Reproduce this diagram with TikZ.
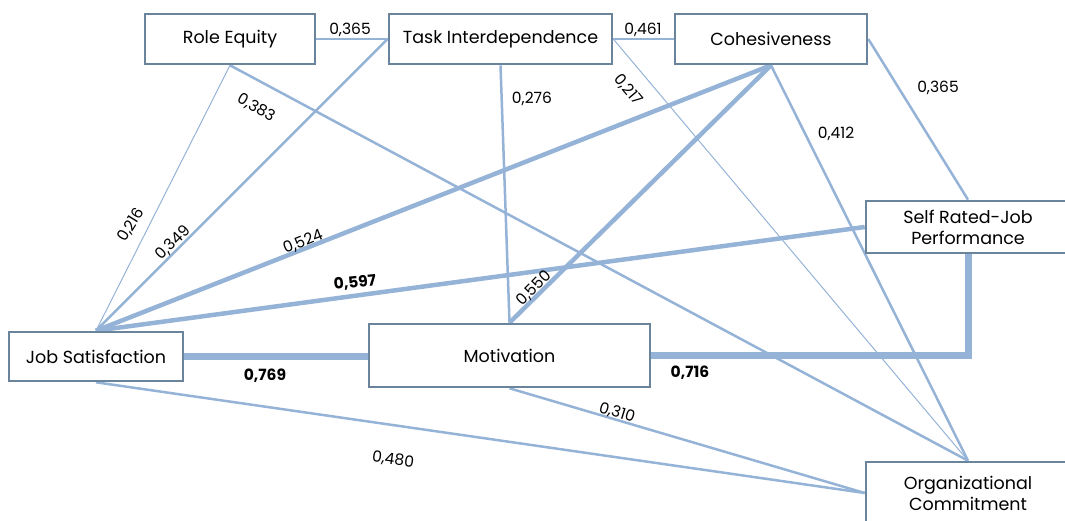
\documentclass[tikz,border=0pt]{standalone}
\usepackage{fontspec}
\setmainfont{Poppins}
\usetikzlibrary{backgrounds}
\definecolor{boxedge}{HTML}{6A849C}
\definecolor{link}{HTML}{95B3D7}
\tikzset{
  box/.style={draw=boxedge, line width=2.6pt, fill=white, inner sep=0pt, align=center, font=\fontsize{17.5}{21}\selectfont},
  lnk/.style={draw=link, line width=2.5pt},
  thinlnk/.style={draw=link, line width=1pt},
  midlnk/.style={draw=link, line width=4.5pt},
  fatlnk/.style={draw=link, line width=7pt},
  val/.style={font=\fontsize{15.5}{18}\selectfont, inner sep=0pt},
  bval/.style={font=\fontsize{15.5}{18}\selectfont\bfseries, inner sep=0pt}
}
\begin{document}
\begin{tikzpicture}[x=1pt,y=1pt]
\useasboundingbox (0,0) rectangle (1065,520);
\node[box, minimum width=170pt, minimum height=50pt] (re) at (230,481) {Role Equity};
\node[box, minimum width=223pt, minimum height=50pt] (ti) at (500.5,481) {Task Interdependence};
\node[box, minimum width=192pt, minimum height=50pt] (co) at (771,481) {Cohesiveness};
\node[box, minimum width=204pt, minimum height=52pt] (sr) at (968,293) {Self Rated-Job\\Performance};
\node[box, minimum width=174pt, minimum height=49pt] (js) at (96,163.5) {Job Satisfaction};
\node[box, minimum width=281pt, minimum height=63pt] (mo) at (509.5,164.5) {Motivation};
\node[box, minimum width=204pt, minimum height=62pt] (oc) at (968,27) {Organizational\\Commitment};
\begin{scope}[on background layer]
\draw[lnk] (re.east) -- (ti.west);
\draw[lnk] (ti.east) -- (co.west);
\draw[thinlnk] (re.south) -- (js.north);
\draw[lnk] (re.south) -- (oc.north);
\draw[lnk] (ti.west) -- (js.north);
\draw[lnk] (ti.south) -- (mo.north);
\draw[thinlnk] (ti.east) -- (oc.north);
\draw[lnk] (co.south) -- (oc.north);
\draw[lnk] (co.east) -- (sr.north);
\draw[midlnk] (co.south) -- (js.north);
\draw[midlnk] (co.south) -- (mo.north);
\draw[midlnk] (js.north) -- (sr.west);
\draw[fatlnk] (js.east) -- (js.east -| mo.west);
\draw[fatlnk, line join=miter] (mo.east) -| (sr.south);
\draw[lnk] (mo.south) -- (oc.west);
\draw[lnk] (js.south) -- (oc.west);
\end{scope}
\node[val] (l1) at (350,490) {0,365};
\node[val] (l2) at (643,490) {0,461};
\node[val, rotate=-30] (l3) at (256,412) {0,383};
\node[val, rotate=58] (l4) at (131,295) {0,216};
\node[val, rotate=45] (l5) at (173,277) {0,349};
\node[val, rotate=22] (l6) at (303,278) {0,524};
\node[val] (l7) at (532,421) {0,276};
\node[val, rotate=-50] (l8) at (628,430) {0,217};
\node[val] (l9) at (836,386) {0,412};
\node[val] (l10) at (938,432) {0,365};
\node[bval, rotate=6] (l11) at (355,237) {0,597};
\node[bval] (l12) at (265,144) {0,769};
\node[val, rotate=45] (l13) at (534,232) {0,550};
\node[bval] (l14) at (690,147) {0,716};
\node[val, rotate=-17] (l15) at (617,107) {0,310};
\node[val, rotate=-8] (l16) at (393,60) {0,480};
\end{tikzpicture}
\end{document}
